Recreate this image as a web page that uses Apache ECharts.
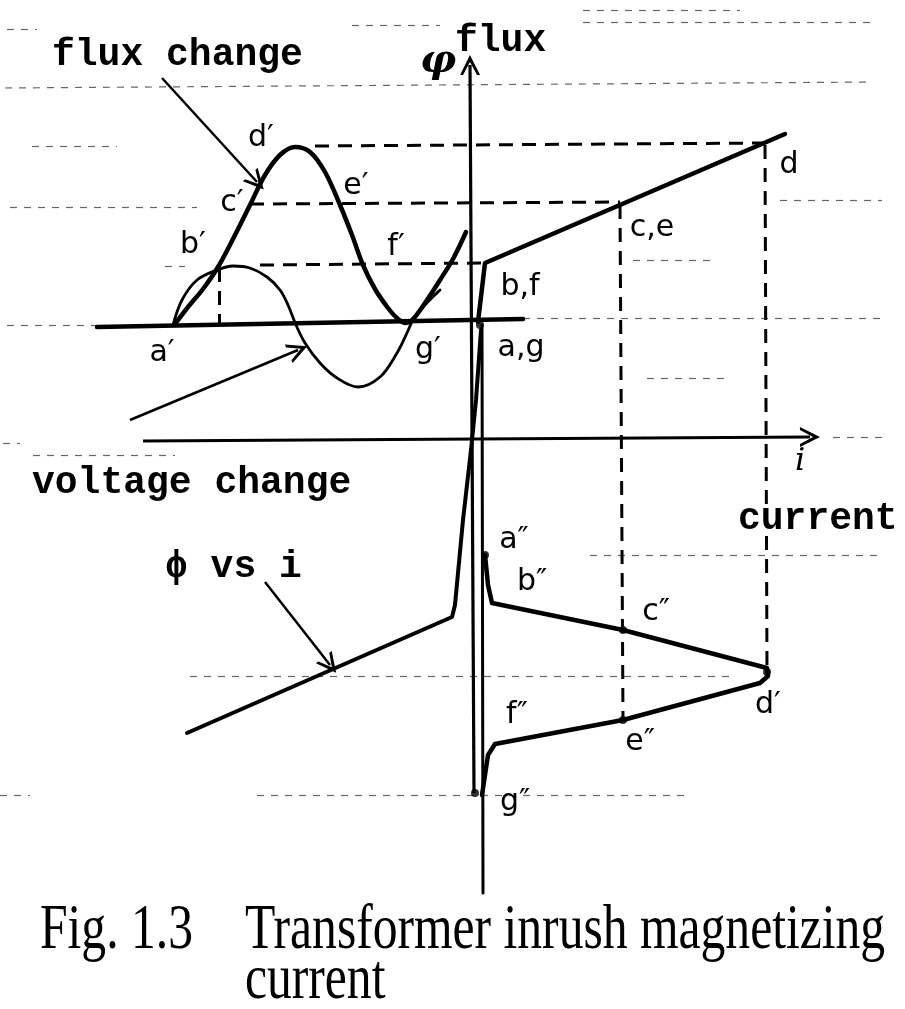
<!DOCTYPE html>
<html><head><meta charset="utf-8">
<script src="https://cdn.jsdelivr.net/npm/echarts@6/dist/echarts.min.js"></script>
<style>html,body{margin:0;padding:0;background:#fff}#c{width:905px;height:1009px}</style>
</head><body><div id="c"></div>
<script>
// ---- diagram data (x: current direction, y: flux direction; origin at axes crossing) ----
const waveBaseline = [[-373,111],[53,119]];
const fluxWave = [[-295,114],[-282,131],[-267,149],[-252,171],[-236,201],[-220,233],[-205,263],[-190,283],[-175,291],[-160,286],[-145,266],[-130,233],[-118,203],[-107,173],[-95,149],[-82,130],[-72,119],[-64,115],[-56,120],[-45,135],[-30,158],[-17,179],[-4,206]];
const voltageWave = [[-297,113],[-288,138],[-273,158],[-253,168],[-237,172],[-220,170],[-203,161],[-190,148],[-182,133],[-174,113],[-165,95],[-150,75],[-133,60],[-112,51],[-90,61],[-73,85],[-63,105],[-57,118],[-45,133],[-30,148]];
const magnetizingCurve = [[8,116],[15,175],[315,304]];
const negativeBranch = [[11,108],[6,38],[1,-12],[-7,-82],[-15,-167],[-18,-179],[-283,-295]];
const currentWave = [[15,-117],[18,-147],[22,-165],[153,-192],[297,-230],[298,-238],[290,-245],[153,-282],[25,-306],[18,-317],[12,-357]];
const fluxAxis = [[0,373],[4,-355]];
const currentAxis = [[-327,-3],[340,1]];
const timeAxis = [[12,113],[13,-455]];
const projections = [
  [[-155,292],[295,295]],
  [[-220,234],[150,236]],
  [[-210,173],[15,175]],
  [[-251,170],[-251,113]],
  [[150,233],[153,-282]],
  [[295,293],[297,-232]]
];
const pointMarks = [[15,-117],[153,-192],[297,-234],[153,-282],[5,-355],[10,113]];
const annotationArrows = [
  [[-308,360],[-213,256]],
  [[-340,18],[-172,88]],
  [[-205,-144],[-140,-227]]
];
const paperRules = [
  [[-463,409],[-433,409]],[[-465,350],[403,356]],[[113,416],[403,416]],[[113,428],[270,428]],
  [[-118,413],[-30,413]],[[-438,292],[-353,292]],[[-460,231],[-273,231]],[[-305,172],[-285,172]],
  [[-463,113],[-373,113]],[[310,238],[412,238]],[[163,178],[247,178]],[[53,120],[412,120]],
  [[177,60],[260,60]],[[-467,-5],[-450,-5]],[[363,1],[413,1]],[[-437,-17],[-295,-17]],
  [[120,-117],[407,-117]],[[-280,-238],[260,-238]],[[-213,-357],[220,-357]],[[-470,-357],[-440,-357]]
];
const pointNames = ['d′','c′','b′','e′','f′','a′','g′','d','c,e','b,f','a,g','a″','b″','c″','d′','e″','f″','g″'];
const captionLines = ['Fig. 1.3','Transformer inrush magnetizing','current'];

// ---- rendering ----
const chevron = 'path://M0,12 L6,0 L12,12 L10.2,12 L6,4.2 L1.8,12 Z';
const solid = (data, w, smooth) => ({
  type:'line', data, symbol:'none', smooth: smooth || false, silent:true,
  lineStyle:{color:'#000', width:w, cap:'round', join:'round', opacity:1}
});
const segs = arr => arr.map(c => ({coords:c}));

const labelPos = [[261,138],[232,203],[193,245],[356,186],[396,247],[162,353],[428,350],[789,165],[652,228],[520,287],[521,348],[514,540],[532,582],[656,612],[768,705],[640,742],[517,715],[515,802]];
const graphics = [];
pointNames.forEach((t,i) => graphics.push({type:'text', x:labelPos[i][0], y:labelPos[i][1],
  style:{text:t, font:'30px "DejaVu Sans"', fill:'#000', textAlign:'center', verticalAlign:'middle'}}));
const mono = 'bold 38px "Liberation Mono"';
[['flux change',52,55],['flux',455,41],['voltage change',32,483],['current',738,519],['ϕ vs i',165,567]].forEach(a =>
  graphics.push({type:'text', x:a[1], y:a[2], style:{text:a[0], font:mono, fill:'#000', textAlign:'left', verticalAlign:'middle'}}));
graphics.push({type:'text', x:438, y:62, style:{text:'φ', font:'italic bold 40px "DejaVu Serif"', fill:'#000', textAlign:'center', verticalAlign:'middle'}});
graphics.push({type:'text', x:800, y:462, style:{text:'i', font:'italic 32px "DejaVu Serif"', fill:'#000', textAlign:'center', verticalAlign:'middle'}});
[[captionLines[0],40,931],[captionLines[1],245,931],[captionLines[2],245,981]].forEach(a =>
  graphics.push({type:'text', x:a[1], y:a[2], scaleX:0.775, style:{text:a[0], font:'64px "Liberation Serif"', fill:'#000', textAlign:'left', verticalAlign:'middle'}}));

const chart = echarts.init(document.getElementById('c'), null, {renderer:'canvas'});
chart.setOption({
  animation:false,
  backgroundColor:'#fff',
  grid:{left:0, top:0, width:905, height:1009},
  xAxis:{type:'value', min:-470, max:435, show:false},
  yAxis:{type:'value', min:-571, max:438, show:false},
  series:[
    {type:'lines', coordinateSystem:'cartesian2d', silent:true, data:segs(paperRules),
     lineStyle:{color:'#000', width:1.2, type:[7,7], opacity:0.6}},
    {type:'lines', coordinateSystem:'cartesian2d', silent:true, data:segs(projections),
     lineStyle:{color:'#000', width:3, type:[14,9], opacity:1}},
    solid(waveBaseline, 4.5),
    solid(fluxWave, 4.5, 0.35),
    solid(voltageWave, 2.8, 0.35),
    solid(magnetizingCurve, 4.5),
    solid(negativeBranch, 4),
    solid(timeAxis, 3),
    solid(currentWave, 4.5),
    {type:'lines', coordinateSystem:'cartesian2d', silent:true, data:segs([fluxAxis.slice().reverse(), currentAxis]),
     symbol:['none', chevron], symbolSize:[16,20], lineStyle:{color:'#000', width:3.2, opacity:1}},
    {type:'lines', coordinateSystem:'cartesian2d', silent:true, data:segs(annotationArrows),
     symbol:['none', chevron], symbolSize:[14,20], lineStyle:{color:'#000', width:2.5, opacity:1}},
    {type:'scatter', data:pointMarks, symbol:'circle', symbolSize:8, silent:true, itemStyle:{color:'#000'}}
  ],
  graphic: graphics
});
</script></body></html>
